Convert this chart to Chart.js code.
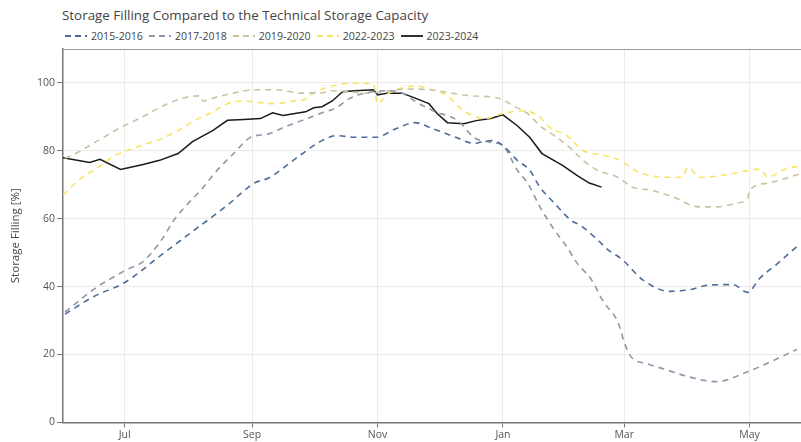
<!DOCTYPE html>
<html>
<head>
<meta charset="utf-8">
<script src="https://cdn.jsdelivr.net/npm/chart.js@4.4.1/dist/chart.umd.min.js"></script>
<style>
  html, body { margin: 0; padding: 0; background: #fff; }
  #wrap { position: relative; width: 801px; height: 442px; overflow: hidden; font-family: "Open Sans", sans-serif; }
  #title { position: absolute; left: 62px; top: 6px; font-size: 13.4px; color: #444; white-space: nowrap; }
  #legend { position: absolute; left: 65px; top: 29px; display: flex; font-size: 10.6px; color: #444; white-space: nowrap; }
  .item { display: flex; align-items: center; margin-right: 6px; }
  .item svg { margin-right: 4px; }
  canvas { position: absolute; left: 0; top: 0; }
</style>
</head>
<body>
<div id="wrap">
  <div id="title">Storage Filling Compared to the Technical Storage Capacity</div>
  <div id="legend"></div>
  <canvas id="storage-chart" width="801" height="442"></canvas>
</div>
<script>
// x values are days counted from 1 June
var monthDays = [30, 92, 153, 214, 273, 334];
var monthLabels = ["Jul", "Sep", "Nov", "Jan", "Mar", "May"];
var yTicks = [0, 20, 40, 60, 80, 100];

var seriesNames = ["2015-2016", "2017-2018", "2019-2020", "2022-2023", "2023-2024"];

var days2015 = [1, 15, 30, 48, 64, 80, 93, 100, 116, 126, 133, 142, 152, 162, 171, 180, 191, 200, 205, 209, 214, 221, 227, 232, 239, 247, 252, 260, 265, 272, 282, 295, 304, 315, 326, 333, 339, 347, 357];
var fill2015 = [31.9, 37.1, 41.2, 49.4, 56.7, 64, 70.5, 72, 79, 83, 84.5, 84, 84, 86.5, 88.3, 86.5, 84, 82.2, 82.8, 83, 81.6, 77.2, 74.3, 69.3, 64.6, 59.6, 57.9, 53.8, 50.9, 48, 42, 38.6, 39, 40.5, 40.6, 38.3, 42.5, 46.5, 51.8];

var days2017 = [1, 15, 31, 39, 48, 54, 61, 67, 75, 83, 91, 100, 107, 116, 126, 133, 139, 147, 158, 165, 171, 180, 192, 200, 208, 214, 221, 226, 232, 239, 245, 250, 257, 263, 270, 273, 276, 284, 292, 304, 318, 333, 344, 357];
var fill2017 = [32.5, 39.2, 45, 47.4, 53.8, 59.6, 64.6, 68.4, 74.3, 79.2, 83.9, 85, 86.8, 88.9, 91.2, 92.7, 95.3, 97, 97.7, 97, 94.7, 91.8, 88.9, 83.9, 82.5, 81.5, 74.3, 70.5, 63.5, 56.7, 51.8, 47, 42.1, 35.4, 29.5, 23.7, 19.6, 17.3, 15.8, 13.5, 12, 14.9, 17.8, 21.5];

var days2019 = [1, 7, 17, 27, 38, 51, 61, 67, 68, 75, 83, 93, 104, 116, 124, 132, 148, 156, 167, 178, 191, 198, 208, 213, 219, 226, 232, 239, 247, 253, 260, 270, 277, 286, 297, 309, 318, 328, 333, 334, 343, 358];
var fill2019 = [77.8, 79.5, 83, 86.5, 89.8, 93.9, 95.9, 96.2, 94.7, 95.9, 97, 98, 98, 97, 97, 97.7, 97, 97.4, 98.2, 98, 96.8, 96.2, 95.9, 95.3, 93.3, 91, 87.4, 84.5, 80.7, 77.2, 74.3, 72.2, 69.3, 68.4, 66.4, 63.5, 63.5, 64.6, 66, 68.4, 70.5, 73.1];

var days2022 = [0, 9, 18, 25, 32, 38, 48, 56, 64, 72, 80, 88, 96, 103, 112, 118, 122, 131, 141, 151, 153, 158, 165, 171, 181, 187, 193, 197, 205, 214, 224, 231, 237, 245, 253, 263, 271, 280, 294, 301, 304, 310, 321, 334, 339, 343, 350, 359];
var fill2022 = [67, 72, 75.5, 78.5, 80.3, 81.6, 83.6, 86, 88.9, 91.2, 93.9, 94.7, 94.2, 93.9, 94.7, 95.3, 97, 99.1, 100, 99.7, 93.9, 96.8, 98.5, 99.1, 97.7, 96.2, 92.7, 91, 89.5, 91, 91.8, 90.4, 86.8, 84.5, 80.1, 78.7, 77.2, 73.7, 72.2, 72.2, 75.1, 72.2, 72.8, 74.3, 74.6, 72.2, 74.3, 75.7];

var days2023 = [0, 13, 18, 28, 39, 47, 56, 63, 73, 80, 88, 96, 102, 107, 118, 122, 126, 131, 136, 142, 151, 153, 158, 165, 171, 178, 182, 187, 195, 201, 208, 214, 221, 227, 233, 243, 250, 256, 262];
var fill2023 = [78, 76.6, 77.5, 74.5, 76, 77.2, 79.2, 82.7, 86, 89, 89.2, 89.5, 91.2, 90.4, 91.5, 92.7, 93, 94.7, 97.4, 97.7, 98, 96.5, 97, 97, 95.6, 93.9, 91, 88.3, 88, 88.9, 89.5, 90.6, 87.4, 84, 79.2, 75.7, 72.8, 70.5, 69.3];

var colors = ["#4d6b99", "#8f97a9", "#cac2a0", "#f7e366", "#1a1a1a"];

function toPoints(days, values) {
    return days.map(function (d, i) { return { x: d, y: values[i] }; });
}

function lineDataset(i, days, values, dashed) {
    return {
        label: seriesNames[i],
        data: toPoints(days, values),
        borderColor: colors[i],
        backgroundColor: colors[i],
        borderWidth: dashed ? 1.6 : 1.5,
        borderDash: dashed ? [6, 5] : [],
        pointRadius: 0,
        cubicInterpolationMode: dashed ? 'monotone' : 'default',
        tension: 0,
        fill: false
    };
}

// top frame line of the plot area
var topBorder = {
    id: 'topBorder',
    afterDraw: function (chart) {
        var a = chart.chartArea, ctx = chart.ctx;
        ctx.save();
        ctx.strokeStyle = '#9a9a9a';
        ctx.lineWidth = 1;
        ctx.beginPath();
        ctx.moveTo(a.left, a.top + 0.5);
        ctx.lineTo(a.right, a.top + 0.5);
        ctx.stroke();
        ctx.restore();
    }
};

function storageChartDisplay() {
    var chart = new Chart(document.getElementById("storage-chart"), {
        type: 'line',
        data: {
            datasets: [
                lineDataset(0, days2015, fill2015, true),
                lineDataset(1, days2017, fill2017, true),
                lineDataset(2, days2019, fill2019, true),
                lineDataset(3, days2022, fill2022, true),
                lineDataset(4, days2023, fill2023, false)
            ]
        },
        plugins: [topBorder],
        options: {
            responsive: false,
            animation: false,
            layout: { padding: { top: 49, left: 0, right: 0, bottom: 0 } },
            plugins: {
                legend: { display: false },
                title: { display: false },
                tooltip: { enabled: false }
            },
            scales: {
                x: {
                    type: 'linear',
                    min: 0,
                    max: 359,
                    afterBuildTicks: function (scale) {
                        scale.ticks = monthDays.map(function (d) { return { value: d }; });
                    },
                    ticks: {
                        autoSkip: false,
                        maxRotation: 0,
                        padding: 1,
                        color: '#555',
                        font: { family: 'Open Sans', size: 10.5 },
                        callback: function (value) {
                            var i = monthDays.indexOf(value);
                            return i >= 0 ? monthLabels[i] : '';
                        }
                    },
                    grid: { color: '#ebebeb', tickLength: 5, tickColor: '#777' },
                    border: { color: '#777', width: 1.5 }
                },
                y: {
                    min: 0,
                    max: 110,
                    afterBuildTicks: function (scale) {
                        scale.ticks = yTicks.map(function (v) { return { value: v }; });
                    },
                    afterFit: function (scale) { scale.width = 63; },
                    ticks: {
                        padding: 2,
                        color: '#555',
                        font: { family: 'Open Sans', size: 10.5 }
                    },
                    grid: { color: '#ebebeb', tickLength: 6, tickColor: '#777' },
                    border: { color: '#777', width: 1.5 },
                    title: {
                        display: true,
                        text: 'Storage Filling [%]',
                        color: '#444',
                        font: { family: 'Open Sans', size: 11.5 },
                        padding: { top: 9, bottom: 0 }
                    }
                }
            }
        }
    });
    buildLegend(chart);
}

function buildLegend(chart) {
    var box = document.getElementById('legend');
    chart.data.datasets.forEach(function (ds) {
        var item = document.createElement('div');
        item.className = 'item';
        var dash = ds.borderDash.length ? 'stroke-dasharray="6,4"' : '';
        item.innerHTML = '<svg width="22" height="6"><line x1="0" y1="3" x2="22" y2="3" stroke="' +
            ds.borderColor + '" stroke-width="1.8" ' + dash + '/></svg><span>' + ds.label + '</span>';
        box.appendChild(item);
    });
}

storageChartDisplay();
</script>
</body>
</html>
